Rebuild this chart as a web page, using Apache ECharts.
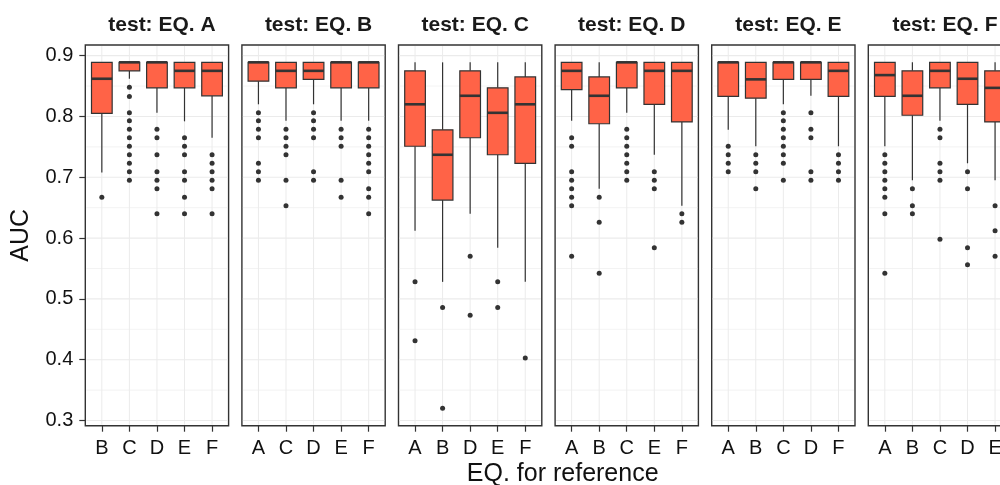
<!DOCTYPE html>
<html>
<head>
<meta charset="utf-8">
<script src="https://cdn.jsdelivr.net/npm/echarts@6/dist/echarts.min.js"></script>
<style>
  html, body { margin: 0; padding: 0; background: #ffffff; }
  #chart { width: 1000px; height: 485px; }
</style>
</head>
<body>
<div id="chart"></div>
<script>
// ---- data -------------------------------------------------------------
const panelTitles = ['test: EQ. A', 'test: EQ. B', 'test: EQ. C', 'test: EQ. D', 'test: EQ. E', 'test: EQ. F'];

// reference equation on the x axis of each panel
const categoriesEqA = ['B', 'C', 'D', 'E', 'F'];
const categoriesEqB = ['A', 'C', 'D', 'E', 'F'];
const categoriesEqC = ['A', 'B', 'D', 'E', 'F'];
const categoriesEqD = ['A', 'B', 'C', 'E', 'F'];
const categoriesEqE = ['A', 'B', 'C', 'D', 'F'];
const categoriesEqF = ['A', 'B', 'C', 'D', 'E'];

// box statistics per category: [lower whisker, Q1, median, Q3, upper whisker]
const boxesEqA = [
  [0.708, 0.805, 0.862, 0.889, 0.889],
  [0.862, 0.875, 0.889, 0.889, 0.889],
  [0.806, 0.847, 0.889, 0.889, 0.889],
  [0.792, 0.847, 0.875, 0.889, 0.889],
  [0.765, 0.834, 0.875, 0.889, 0.889]
];
const boxesEqB = [
  [0.820, 0.858, 0.889, 0.889, 0.889],
  [0.793, 0.847, 0.875, 0.889, 0.889],
  [0.820, 0.861, 0.875, 0.889, 0.889],
  [0.793, 0.847, 0.889, 0.889, 0.889],
  [0.793, 0.847, 0.889, 0.889, 0.889]
];
const boxesEqC = [
  [0.612, 0.751, 0.820, 0.875, 0.889],
  [0.528, 0.6625, 0.737, 0.778, 0.889],
  [0.640, 0.765, 0.834, 0.875, 0.889],
  [0.584, 0.737, 0.806, 0.847, 0.889],
  [0.528, 0.723, 0.820, 0.865, 0.889]
];
const boxesEqD = [
  [0.793, 0.844, 0.875, 0.889, 0.889],
  [0.681, 0.788, 0.834, 0.865, 0.889],
  [0.806, 0.847, 0.889, 0.889, 0.889],
  [0.737, 0.820, 0.875, 0.889, 0.889],
  [0.653, 0.791, 0.875, 0.889, 0.889]
];
const boxesEqE = [
  [0.778, 0.833, 0.889, 0.889, 0.889],
  [0.751, 0.830, 0.861, 0.889, 0.889],
  [0.820, 0.861, 0.889, 0.889, 0.889],
  [0.834, 0.861, 0.889, 0.889, 0.889],
  [0.751, 0.833, 0.875, 0.889, 0.889]
];
const boxesEqF = [
  [0.751, 0.833, 0.868, 0.889, 0.889],
  [0.695, 0.802, 0.834, 0.875, 0.889],
  [0.793, 0.847, 0.875, 0.889, 0.889],
  [0.723, 0.820, 0.862, 0.889, 0.889],
  [0.695, 0.791, 0.847, 0.875, 0.889]
];

// outlying AUC values per category
const outliersEqA = [
  [0.667],
  [0.848, 0.833, 0.806, 0.793, 0.779, 0.765, 0.751, 0.737, 0.723, 0.709, 0.695],
  [0.779, 0.765, 0.737, 0.709, 0.695, 0.681, 0.640],
  [0.765, 0.751, 0.737, 0.709, 0.695, 0.667, 0.640],
  [0.737, 0.723, 0.709, 0.695, 0.681, 0.640]
];
const outliersEqB = [
  [0.806, 0.793, 0.779, 0.765, 0.723, 0.709, 0.695],
  [0.779, 0.765, 0.751, 0.737, 0.695, 0.653],
  [0.806, 0.793, 0.779, 0.765, 0.709, 0.695],
  [0.779, 0.765, 0.751, 0.695, 0.667],
  [0.779, 0.765, 0.751, 0.737, 0.723, 0.709, 0.681, 0.667, 0.640]
];
const outliersEqC = [
  [0.528, 0.431],
  [0.486, 0.320],
  [0.570, 0.473],
  [0.528, 0.486],
  [0.403]
];
const outliersEqD = [
  [0.765, 0.751, 0.709, 0.695, 0.681, 0.667, 0.653, 0.570],
  [0.667, 0.626, 0.542],
  [0.779, 0.765, 0.751, 0.737, 0.723, 0.709, 0.695],
  [0.709, 0.695, 0.681, 0.584],
  [0.640, 0.626]
];
const outliersEqE = [
  [0.751, 0.737, 0.723, 0.709],
  [0.737, 0.723, 0.709, 0.681],
  [0.806, 0.793, 0.779, 0.765, 0.751, 0.737, 0.723, 0.695],
  [0.806, 0.779, 0.765, 0.709, 0.695],
  [0.737, 0.723, 0.709, 0.695]
];
const outliersEqF = [
  [0.737, 0.723, 0.709, 0.695, 0.681, 0.667, 0.640, 0.542],
  [0.681, 0.653, 0.640],
  [0.779, 0.765, 0.723, 0.709, 0.695, 0.598],
  [0.709, 0.681, 0.584, 0.556],
  [0.653, 0.612, 0.570]
];

// axis ticks
const yMajorTicks = [0.3, 0.4, 0.5, 0.6, 0.7, 0.8, 0.9];
const yMinorTicks = [0.35, 0.45, 0.55, 0.65, 0.75, 0.85];
const xTickPositions = [1, 2, 3, 4, 5];

// ---- layout & style ---------------------------------------------------
const panels = [
  { title: panelTitles[0], cats: categoriesEqA, boxes: boxesEqA, outliers: outliersEqA },
  { title: panelTitles[1], cats: categoriesEqB, boxes: boxesEqB, outliers: outliersEqB },
  { title: panelTitles[2], cats: categoriesEqC, boxes: boxesEqC, outliers: outliersEqC },
  { title: panelTitles[3], cats: categoriesEqD, boxes: boxesEqD, outliers: outliersEqD },
  { title: panelTitles[4], cats: categoriesEqE, boxes: boxesEqE, outliers: outliersEqE },
  { title: panelTitles[5], cats: categoriesEqF, boxes: boxesEqF, outliers: outliersEqF }
];

const FONT = '"Liberation Sans", Arial, Helvetica, sans-serif';
const PANEL_LEFT = 85.3, PANEL_STEP = 156.6, PANEL_W = 143.3;
const PANEL_TOP = 45, PANEL_H = 380.7;
const Y_MIN = 0.2915, Y_MAX = 0.9175;
const X_MIN = 0.4, X_MAX = 5.6;
const BOX_WIDTH = 0.75;
const FILL = '#FF6347', INK = '#333333', GRID_LINE = '#EBEBEB';

const grids = [], xAxes = [], yAxes = [], series = [], titles = [];

function hLineRenderer(width) {
  return function (params, api) {
    const cs = params.coordSys;
    const y = api.coord([X_MIN, api.value(0)])[1];
    return {
      type: 'line',
      shape: { x1: cs.x + 1, y1: y, x2: cs.x + cs.width - 1, y2: y },
      style: { stroke: GRID_LINE, lineWidth: width }
    };
  };
}
function vLineRenderer(params, api) {
  const cs = params.coordSys;
  const x = api.coord([api.value(0), Y_MIN])[0];
  return {
    type: 'line',
    shape: { x1: x, y1: cs.y + 1, x2: x, y2: cs.y + cs.height - 1 },
    style: { stroke: GRID_LINE, lineWidth: 1 }
  };
}
function boxRenderer(params, api) {
  const x = api.value(0);
  const lo = api.coord([x, api.value(1)]);
  const q1 = api.coord([x, api.value(2)]);
  const md = api.coord([x, api.value(3)]);
  const q3 = api.coord([x, api.value(4)]);
  const hi = api.coord([x, api.value(5)]);
  const w = api.size([BOX_WIDTH, 0])[0];
  const cx = lo[0];
  return {
    type: 'group',
    children: [
      { type: 'line', shape: { x1: cx, y1: hi[1], x2: cx, y2: q3[1] }, style: { stroke: INK, lineWidth: 1.2 } },
      { type: 'line', shape: { x1: cx, y1: q1[1], x2: cx, y2: lo[1] }, style: { stroke: INK, lineWidth: 1.2 } },
      { type: 'rect', shape: { x: cx - w / 2, y: q3[1], width: w, height: q1[1] - q3[1] },
        style: { fill: FILL, stroke: INK, lineWidth: 1.2 } },
      { type: 'line', shape: { x1: cx - w / 2, y1: md[1], x2: cx + w / 2, y2: md[1] },
        style: { stroke: INK, lineWidth: 2.6 } }
    ]
  };
}

panels.forEach(function (p, i) {
  const left = PANEL_LEFT + i * PANEL_STEP;
  grids.push({
    left: left, top: PANEL_TOP, width: PANEL_W, height: PANEL_H,
    outerBoundsMode: 'none', containLabel: false,
    show: true, backgroundColor: '#ffffff', borderColor: INK, borderWidth: 1.4
  });
  xAxes.push({
    gridIndex: i, type: 'value', min: X_MIN, max: X_MAX,
    axisLine: { show: false },
    splitLine: { show: false },
    axisTick: { show: true, customValues: xTickPositions, length: 6, lineStyle: { color: INK, width: 1.2 } },
    axisLabel: {
      show: true, customValues: xTickPositions, margin: 13,
      fontSize: 20, fontFamily: FONT, color: '#111111',
      formatter: function (v) { return p.cats[Math.round(v) - 1]; }
    }
  });
  const first = i === 0;
  yAxes.push({
    gridIndex: i, type: 'value', min: Y_MIN, max: Y_MAX,
    axisLine: { show: false },
    splitLine: { show: false },
    name: first ? 'AUC' : '',
    nameLocation: 'middle', nameRotate: 90, nameGap: 52,
    nameTextStyle: { fontSize: 25, fontFamily: FONT, color: '#111111' },
    axisTick: { show: first, customValues: yMajorTicks, length: 6, lineStyle: { color: INK, width: 1.2 } },
    axisLabel: {
      show: first, customValues: yMajorTicks, margin: 12,
      fontSize: 20, fontFamily: FONT, color: '#111111',
      formatter: function (v) { return v.toFixed(1); }
    }
  });

  // panel grid lines
  series.push({
    type: 'custom', xAxisIndex: i, yAxisIndex: i, z: 1, silent: true,
    renderItem: hLineRenderer(0.6), data: yMinorTicks.map(function (v) { return [v]; }),
    encode: { y: 0 }
  });
  series.push({
    type: 'custom', xAxisIndex: i, yAxisIndex: i, z: 1, silent: true,
    renderItem: hLineRenderer(1.1), data: yMajorTicks.map(function (v) { return [v]; }),
    encode: { y: 0 }
  });
  series.push({
    type: 'custom', xAxisIndex: i, yAxisIndex: i, z: 1, silent: true,
    renderItem: vLineRenderer, data: xTickPositions.map(function (v) { return [v]; }),
    encode: { x: 0 }
  });

  // boxes
  series.push({
    type: 'custom', xAxisIndex: i, yAxisIndex: i, z: 3,
    renderItem: boxRenderer,
    data: p.boxes.map(function (b, k) { return [k + 1].concat(b); }),
    encode: { x: 0, y: [1, 2, 3, 4, 5] }
  });

  // outliers
  const pts = [];
  p.outliers.forEach(function (vals, k) {
    vals.forEach(function (v) { pts.push([k + 1, v]); });
  });
  series.push({
    type: 'scatter', xAxisIndex: i, yAxisIndex: i, z: 4,
    symbol: 'circle', symbolSize: 5,
    itemStyle: { color: INK, opacity: 1 },
    data: pts
  });

  titles.push({
    text: p.title, left: left + PANEL_W / 2, top: 10, textAlign: 'center',
    textStyle: { fontSize: 21, fontWeight: 'bold', fontFamily: FONT, color: '#1a1a1a' }
  });
});

titles.push({
  text: 'EQ. for reference', left: 557.7, top: 457, textAlign: 'center',
  textStyle: { fontSize: 25, fontWeight: 'normal', fontFamily: FONT, color: '#111111' }
});

const chart = echarts.init(document.getElementById('chart'), null, { renderer: 'canvas' });
chart.setOption({
  animation: false,
  backgroundColor: '#ffffff',
  title: titles,
  grid: grids,
  xAxis: xAxes,
  yAxis: yAxes,
  series: series
});
</script>
</body>
</html>
